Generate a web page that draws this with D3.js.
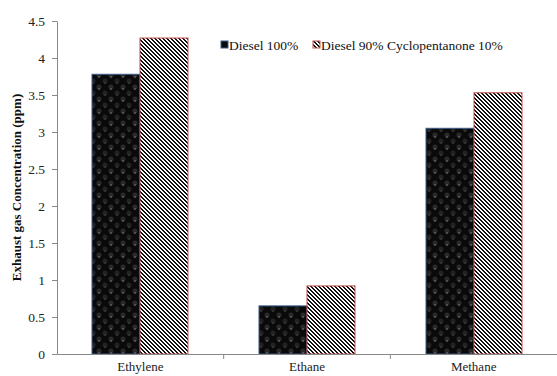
<!DOCTYPE html>
<html><head><meta charset="utf-8">
<script src="https://cdn.jsdelivr.net/npm/d3@7"></script>
<style>body{margin:0;background:#fff}svg{display:block}</style>
</head><body>
<script>
const categories = ["Ethylene", "Ethane", "Methane"];
const seriesNames = ["Diesel 100%", "Diesel 90% Cyclopentanone 10%"];
const diesel100 = [3.78, 0.65, 3.05];
const dieselCyclo = [4.27, 0.92, 3.53];
const yTicks = [0, 0.5, 1, 1.5, 2, 2.5, 3, 3.5, 4, 4.5];

const W = 557, H = 376;
const m = {left: 57, right: 0, top: 21, bottom: 22};
const FONT = "Liberation Serif, Times New Roman, serif";
const svg = d3.select("body").append("svg").attr("width", W).attr("height", H);
const defs = svg.append("defs");

// dotted dark pattern
const p1 = defs.append("pattern").attr("id", "dots").attr("patternUnits", "userSpaceOnUse")
  .attr("width", 12).attr("height", 12);
p1.append("rect").attr("width", 12).attr("height", 12).attr("fill", "#0a0a0a");
p1.append("circle").attr("cx", 3).attr("cy", 3).attr("r", 2.5).attr("fill", "#2a2a2a");
p1.append("circle").attr("cx", 9).attr("cy", 9).attr("r", 2.5).attr("fill", "#222");
p1.append("circle").attr("cx", 3).attr("cy", 5).attr("r", 0.7).attr("fill", "#9a9a9a");
p1.append("circle").attr("cx", 9).attr("cy", 11).attr("r", 0.6).attr("fill", "#777");

// diagonal stripe pattern, pixel aligned, "\" direction, 4px period
const p2 = defs.append("pattern").attr("id", "stripes").attr("patternUnits", "userSpaceOnUse")
  .attr("width", 4).attr("height", 4);
p2.append("rect").attr("width", 4).attr("height", 4).attr("fill", "#fff");
const px = [];
for (let r = 0; r < 4; r++) { px.push([r, r]); px.push([(r + 1) % 4, r]); }
p2.selectAll("rect.px").data(px).join("rect").attr("class", "px")
  .attr("x", d => d[0]).attr("y", d => d[1]).attr("width", 1).attr("height", 1)
  .attr("fill", "#111").attr("shape-rendering", "crispEdges");

const x = d3.scaleBand().domain(categories).range([m.left, W - m.right]).paddingInner(0).paddingOuter(0);
const y = d3.scaleLinear().domain([0, 4.5]).range([H - m.bottom, m.top]);
const barW = 48;

const data = [
  {name: seriesNames[0], values: diesel100, fill: "url(#dots)", stroke: "#3a5a8a"},
  {name: seriesNames[1], values: dieselCyclo, fill: "url(#stripes)", stroke: "#c0504d"}
];

data.forEach((s, si) => {
  svg.append("g").selectAll("rect").data(s.values).join("rect")
    .attr("x", (d, i) => Math.round(x(categories[i]) + x.bandwidth() / 2 - barW + si * barW))
    .attr("y", d => y(d))
    .attr("width", barW)
    .attr("height", d => y(0) - y(d))
    .attr("fill", s.fill)
    .attr("stroke", s.stroke).attr("stroke-width", 1);
});

// y axis
const yAxis = svg.append("g").attr("transform", `translate(${m.left},0)`)
  .call(d3.axisLeft(y).tickValues(yTicks).tickFormat(d => d).tickSize(5).tickSizeOuter(0));
yAxis.select(".domain").attr("stroke", "#888");
yAxis.selectAll(".tick line").attr("stroke", "#888");
yAxis.selectAll(".tick text").attr("font-family", FONT)
  .attr("font-size", 13.5).attr("fill", "#222").attr("x", -12);

// x axis
const xAxis = svg.append("g").attr("transform", `translate(0,${y(0)})`)
  .call(d3.axisBottom(x).tickSize(0).tickSizeOuter(0));
xAxis.select(".domain").attr("stroke", "#888");
xAxis.selectAll(".tick text").attr("font-family", FONT)
  .attr("font-size", 13).attr("fill", "#222").attr("dy", "0.71em").attr("y", 8);
xAxis.append("g").selectAll("line").data(categories.slice(1)).join("line")
  .attr("x1", d => x(d)).attr("x2", d => x(d)).attr("y1", 0).attr("y2", 5).attr("stroke", "#888");

// y title
svg.append("text")
  .attr("transform", `translate(21,${(y(0) + y(4.5)) / 2}) rotate(-90)`)
  .attr("text-anchor", "middle")
  .attr("font-family", FONT)
  .attr("font-weight", "bold").attr("font-size", 13).attr("fill", "#111")
  .text("Exhaust gas Concentration (ppm)");

// legend
const legX = [221, 313];
data.forEach((s, i) => {
  const g = svg.append("g").attr("transform", `translate(${legX[i]},41)`);
  g.append("rect").attr("width", 7).attr("height", 7).attr("fill", i === 0 ? "#0a0a0a" : "url(#stripes)")
    .attr("stroke", s.stroke).attr("stroke-width", 1);
  g.append("text").attr("x", 8).attr("y", 8.5)
    .attr("font-family", FONT)
    .attr("font-size", 13.5).attr("fill", "#111").text(s.name);
});
</script>
</body></html>
